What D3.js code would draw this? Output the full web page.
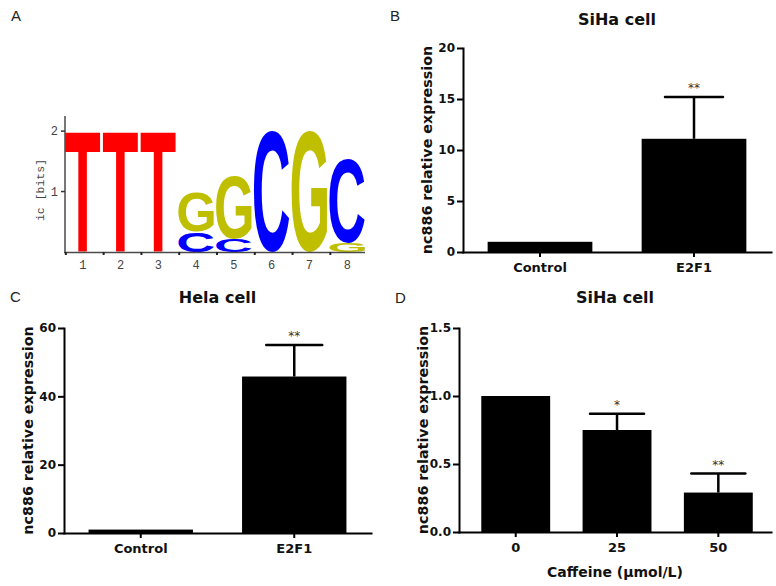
<!DOCTYPE html>
<html><head><meta charset="utf-8">
<script src="https://cdn.jsdelivr.net/npm/d3@7"></script>
<style>body{margin:0;background:#fff}svg{display:block}</style>
</head><body>
<svg id="chart" width="776" height="586"></svg>
<script>
// ---- Panel A: sequence logo ----
const logoPositions = ["1","2","3","4","5","6","7","8"];
const logoBitsT = [2.0, 2.0, 2.0, 0, 0, 0, 0, 0];
const logoBitsC = [0, 0, 0, 0.33, 0.22, 2.0, 0, 1.39];
const logoBitsG = [0, 0, 0, 0.66, 1.05, 0, 2.0, 0.15];
const logoTicks = [1, 2];

// ---- Panel B: SiHa cell ----
const siHaCategories = ["Control", "E2F1"];
const siHaValues = [1.0, 11.1];
const siHaErrors = [0, 4.1];
const siHaSig = ["", "**"];
const siHaTicks = [0, 5, 10, 15, 20];

// ---- Panel C: Hela cell ----
const helaCategories = ["Control", "E2F1"];
const helaValues = [1.0, 45.8];
const helaErrors = [0, 9.2];
const helaSig = ["", "**"];
const helaTicks = [0, 20, 40, 60];

// ---- Panel D: SiHa cell, caffeine ----
const caffeineCategories = ["0", "25", "50"];
const caffeineValues = [1.0, 0.75, 0.29];
const caffeineErrors = [0, 0.12, 0.14];
const caffeineSig = ["", "*", "**"];
const caffeineTicks = [0, 0.5, 1.0, 1.5];

const svg = d3.select("#chart");
svg.append("rect").attr("width", 776).attr("height", 586).attr("fill", "#fff");

// panel letters
const panelLetters = [["A", 11, 21], ["B", 390, 21], ["C", 10, 302], ["D", 395, 303]];
svg.selectAll("text.plabel").data(panelLetters).join("text")
  .attr("class", "plabel")
  .attr("x", d => d[1]).attr("y", d => d[2])
  .attr("font-family", "Liberation Sans, Arial, sans-serif")
  .attr("font-size", 15).attr("fill", "#222")
  .text(d => d[0]);

// ---------- Logo ----------
(function drawLogo() {
  const g = svg.append("g");
  const x = d3.scaleBand().domain(logoPositions).range([65, 365]).paddingInner(0.06).paddingOuter(0.0);
  const y = d3.scaleLinear().domain([0, 2.25]).range([252, 116]);
  const colors = { T: "#ff0000", C: "#0000ff", G: "#bfbf00" };
  const canvas = document.createElement("canvas");
  const ctx = canvas.getContext("2d");
  ctx.font = "bold 100px 'Liberation Sans'";
  const metrics = {};
  ["T", "C", "G"].forEach(L => {
    const m = ctx.measureText(L);
    metrics[L] = { l: m.actualBoundingBoxLeft, r: m.actualBoundingBoxRight, a: m.actualBoundingBoxAscent, d: m.actualBoundingBoxDescent };
  });
  logoPositions.forEach((p, i) => {
    const stack = [["T", logoBitsT[i]], ["C", logoBitsC[i]], ["G", logoBitsG[i]]]
      .filter(s => s[1] > 0).sort((a, b) => a[1] - b[1]);
    let base = 0;
    stack.forEach(([L, h]) => {
      const top = base + h;
      const x0 = x(p), W = x.bandwidth();
      const y0 = y(top), H = y(base) - y(top);
      const m = metrics[L];
      const gw = m.l + m.r, gh = m.a + m.d;
      g.append("text")
        .attr("transform", `translate(${x0},${y0}) scale(${W / gw},${H / gh}) translate(${m.l},${m.a})`)
        .attr("font-family", "Liberation Sans").attr("font-weight", "bold").attr("font-size", 100)
        .attr("fill", colors[L]).text(L);
      base = top;
    });
  });
  // axes
  const axCol = "#4a4a4a";
  g.append("line").attr("x1", 65).attr("x2", 65).attr("y1", y(0)).attr("y2", y(2.25))
    .attr("stroke", axCol).attr("stroke-width", 1.5);
  g.append("line").attr("x1", 64).attr("x2", 365).attr("y1", y(0) + 0.5).attr("y2", y(0) + 0.5)
    .attr("stroke", axCol).attr("stroke-width", 1.5);
  g.selectAll("line.yt").data(logoTicks).join("line").attr("class", "yt")
    .attr("x1", 61).attr("x2", 65).attr("y1", d => y(d)).attr("y2", d => y(d))
    .attr("stroke", "#333").attr("stroke-width", 1.5);
  g.selectAll("text.yt").data(logoTicks).join("text").attr("class", "yt")
    .attr("x", 58).attr("y", d => y(d) + 4).attr("text-anchor", "end")
    .attr("font-family", "Liberation Mono, monospace").attr("font-size", 12).attr("fill", "#444")
    .text(d => d);
  const bounds = logoPositions.map(p => x(p) - x.step() * 0.03);
  g.selectAll("line.xt").data(bounds).join("line").attr("class", "xt")
    .attr("x1", d => d + 2).attr("x2", d => d + 2).attr("y1", y(0)).attr("y2", y(0) + 3)
    .attr("stroke", "#222").attr("stroke-width", 2);
  g.selectAll("text.xt").data(logoPositions).join("text").attr("class", "xt")
    .attr("x", d => x(d) + x.bandwidth() / 2).attr("y", 269).attr("text-anchor", "middle")
    .attr("font-family", "Liberation Mono, monospace").attr("font-size", 12).attr("fill", "#444")
    .text(d => d);
  g.append("text").attr("transform", `translate(44,190) rotate(-90)`)
    .attr("text-anchor", "middle")
    .attr("font-family", "Liberation Mono, monospace").attr("font-size", 11.5).attr("fill", "#444")
    .text("ic [bits]");
})();

// ---------- Bar panels ----------
function barPanel(cfg) {
  const g = svg.append("g");
  const font = "DejaVu Sans, sans-serif";
  const x = d3.scaleBand().domain(cfg.categories).range([cfg.x0, cfg.x1])
    .paddingInner(cfg.pi).paddingOuter(cfg.po).align(cfg.align);
  const y = d3.scaleLinear().domain([0, cfg.ymax]).range([cfg.yb, cfg.yt]);
  const data = cfg.categories.map((c, i) => ({ c, v: cfg.values[i], e: cfg.errors[i], s: cfg.sig[i] }));

  g.selectAll("rect.bar").data(data).join("rect").attr("class", "bar")
    .attr("x", d => x(d.c)).attr("width", x.bandwidth())
    .attr("y", d => y(d.v)).attr("height", d => y(0) - y(d.v))
    .attr("fill", "#000");

  const eb = data.filter(d => d.e > 0);
  g.selectAll("line.ev").data(eb).join("line").attr("class", "ev")
    .attr("x1", d => x(d.c) + x.bandwidth() / 2).attr("x2", d => x(d.c) + x.bandwidth() / 2)
    .attr("y1", d => y(d.v)).attr("y2", d => y(d.v + d.e))
    .attr("stroke", "#000").attr("stroke-width", 2.5);
  g.selectAll("line.ec").data(eb).join("line").attr("class", "ec")
    .attr("x1", d => x(d.c) + x.bandwidth() / 2 - cfg.cap / 2)
    .attr("x2", d => x(d.c) + x.bandwidth() / 2 + cfg.cap / 2)
    .attr("y1", d => y(d.v + d.e)).attr("y2", d => y(d.v + d.e))
    .attr("stroke", "#000").attr("stroke-width", 2.5).attr("stroke-linecap", "round");
  g.selectAll("text.sig").data(data.filter(d => d.s)).join("text").attr("class", "sig")
    .attr("x", d => x(d.c) + x.bandwidth() / 2).attr("y", d => y(d.v + d.e) - 5)
    .attr("text-anchor", "middle").attr("font-family", font).attr("font-size", 12)
    .attr("fill", "#333").text(d => d.s);

  const ya = g.append("g").attr("transform", `translate(${cfg.x0},0)`)
    .call(d3.axisLeft(y).tickValues(cfg.ticks).tickFormat(cfg.fmt).tickSize(6).tickSizeOuter(0).tickPadding(2));
  const xa = g.append("g").attr("transform", `translate(0,${cfg.yb})`)
    .call(d3.axisBottom(x).tickSize(5).tickSizeOuter(0).tickPadding(6));
  [ya, xa].forEach(a => {
    a.select(".domain").attr("stroke", "#000").attr("stroke-width", 2).attr("stroke-linecap", "square");
    a.selectAll(".tick line").attr("stroke", "#000").attr("stroke-width", 2);
    a.selectAll(".tick text").attr("fill", "#111").attr("font-family", font).attr("font-weight", "bold");
  });
  ya.selectAll(".tick text").attr("font-size", 12);
  xa.selectAll(".tick text").attr("font-size", 13);

  g.append("text").attr("x", (cfg.x0 + cfg.x1) / 2).attr("y", cfg.titleY)
    .attr("text-anchor", "middle").attr("font-family", font).attr("font-weight", "bold")
    .attr("font-size", 16).attr("fill", "#111").text(cfg.title);
  g.append("text").attr("transform", `translate(${cfg.x0 - 36},${(cfg.yb + cfg.yt) / 2}) rotate(-90)`)
    .attr("text-anchor", "middle").attr("dominant-baseline", "central")
    .attr("font-family", font).attr("font-weight", "bold").attr("font-size", 14.3)
    .attr("fill", "#111").text("nc886 relative expression");
  if (cfg.xTitle) {
    g.append("text").attr("x", (cfg.x0 + cfg.x1) / 2).attr("y", cfg.yb + 45)
      .attr("text-anchor", "middle").attr("font-family", font).attr("font-weight", "bold")
      .attr("font-size", 14).attr("fill", "#111").text(cfg.xTitle);
  }
}

barPanel({ categories: siHaCategories, values: siHaValues, errors: siHaErrors, sig: siHaSig,
  ticks: siHaTicks, fmt: d3.format("d"), ymax: 20, x0: 463, x1: 771, yb: 252, yt: 48,
  pi: 0.32, po: 0.16, align: 0.5, cap: 58, title: "SiHa cell", titleY: 25 });

barPanel({ categories: helaCategories, values: helaValues, errors: helaErrors, sig: helaSig,
  ticks: helaTicks, fmt: d3.format("d"), ymax: 60, x0: 64, x1: 371, yb: 533, yt: 328,
  pi: 0.32, po: 0.16, align: 0.5, cap: 56, title: "Hela cell", titleY: 303 });

barPanel({ categories: caffeineCategories, values: caffeineValues, errors: caffeineErrors, sig: caffeineSig,
  ticks: caffeineTicks, fmt: d3.format(".1f"), ymax: 1.5, x0: 459, x1: 771, yb: 532, yt: 328,
  pi: 0.32, po: 0.2, align: 0.55, cap: 54, title: "SiHa cell", titleY: 303, xTitle: "Caffeine (µmol/L)" });
</script>
</body></html>
